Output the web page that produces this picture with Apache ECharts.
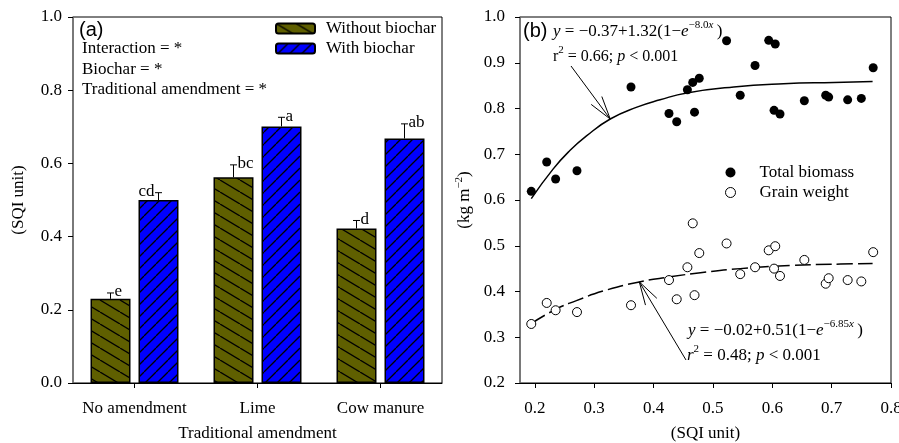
<!DOCTYPE html>
<html><head><meta charset="utf-8">
<script src="https://cdn.jsdelivr.net/npm/echarts@6/dist/echarts.min.js"></script>
<style>html,body{margin:0;padding:0;background:#fff}#c{width:899px;height:443px}</style>
</head><body><div id="c"></div>
<script>
// ---------- data ----------
const categories = ['No amendment', 'Lime', 'Cow manure'];
const withoutBiochar = [0.230, 0.562, 0.422];
const withBiochar = [0.500, 0.701, 0.668];
const errWithout = [0.016, 0.034, 0.022];
const errWith = [0.020, 0.025, 0.040];
const lettersWithout = ['e', 'bc', 'd'];
const lettersWith = ['cd', 'a', 'ab'];
const leftYTicks = [0, 0.2, 0.4, 0.6, 0.8, 1.0];

const sqi = [0.194, 0.220, 0.235, 0.271, 0.362, 0.426, 0.439, 0.457, 0.466, 0.469, 0.477, 0.523,
             0.546, 0.571, 0.594, 0.603, 0.605, 0.613, 0.654, 0.690, 0.695, 0.727, 0.750, 0.770];
const totalBiomass = [0.619, 0.683, 0.646, 0.664, 0.847, 0.789, 0.771, 0.841, 0.857, 0.792, 0.866, 0.948,
                      0.829, 0.894, 0.949, 0.796, 0.941, 0.788, 0.817, 0.829, 0.825, 0.819, 0.822, 0.889];
const grainWeight = [0.329, 0.375, 0.359, 0.355, 0.370, 0.425, 0.383, 0.453, 0.549, 0.392, 0.484, 0.505,
                     0.438, 0.453, 0.490, 0.450, 0.499, 0.434, 0.469, 0.417, 0.429, 0.425, 0.422, 0.486];
// fitted curves
const fitBiomassX = [0.194, 0.231, 0.259, 0.287, 0.327, 0.372, 0.411, 0.456, 0.535, 0.619, 0.704, 0.769];
const fitBiomassY = [0.603, 0.668, 0.708, 0.740, 0.777, 0.803, 0.819, 0.834, 0.847, 0.854, 0.857, 0.859];
const fitGrainX = [0.194, 0.235, 0.270, 0.315, 0.376, 0.428, 0.479, 0.546, 0.631, 0.715, 0.769];
const fitGrainY = [0.330, 0.361, 0.380, 0.401, 0.421, 0.432, 0.441, 0.450, 0.457, 0.460, 0.461];
const rightXTicks = [0.2, 0.3, 0.4, 0.5, 0.6, 0.7, 0.8];
const rightYTicks = [0.2, 0.3, 0.4, 0.5, 0.6, 0.7, 0.8, 0.9, 1.0];

// ---------- rendering ----------
const SERIF = 'Liberation Serif';
const FS = 17;
function hatch(bg, w, h, forward) {
  const c = document.createElement('canvas');
  c.width = w; c.height = h;
  const g = c.getContext('2d');
  g.fillStyle = bg; g.fillRect(0, 0, w, h);
  g.strokeStyle = '#000'; g.lineWidth = 1.3;
  for (const dx of [-w, 0, w]) {
    g.beginPath();
    if (forward) { g.moveTo(dx, h); g.lineTo(dx + w, 0); }
    else { g.moveTo(dx, 0); g.lineTo(dx + w, h); }
    g.stroke();
  }
  return c;
}
const olivePattern = { image: hatch('#5f5f00', 20, 12, false), repeat: 'repeat' };
const bluePattern = { image: hatch('#0000ff', 12, 12, true), repeat: 'repeat' };

const zip = (a, b) => a.map((v, i) => [v, b[i]]);
const txt = { fontFamily: SERIF, fontSize: FS, color: '#000' };

function errSeries(vals, errs, letters, offset, sides) {
  return {
    type: 'custom', xAxisIndex: 0, yAxisIndex: 0, z: 5, silent: true,
    data: vals.map((v, i) => [i, v]),
    renderItem: (params, api) => {
      const i = params.dataIndex;
      const base = api.coord([i, vals[i]]);
      const top = api.coord([i, vals[i] + errs[i]]);
      const x = base[0] + offset, cap = 3.5;
      const right = sides[i] > 0;
      return { type: 'group', children: [
        { type: 'line', shape: { x1: x, y1: base[1], x2: x, y2: top[1] }, style: { stroke: '#000', lineWidth: 1 } },
        { type: 'line', shape: { x1: x - cap, y1: top[1], x2: x + cap, y2: top[1] }, style: { stroke: '#000', lineWidth: 1 } },
        { type: 'text', x: right ? x + cap + 0.5 : x - cap - 0.5, y: top[1] - 1,
          style: { text: letters[i], fill: '#000', font: FS + 'px "' + SERIF + '"',
                   align: right ? 'left' : 'right', textAlign: right ? 'left' : 'right',
                   verticalAlign: 'middle', textVerticalAlign: 'middle' } }
      ]};
    }
  };
}

const chart = echarts.init(document.getElementById('c'), null, { renderer: 'canvas' });
const axisBase = {
  axisLine: { show: true, lineStyle: { color: '#000', width: 1 } },
  axisTick: { show: true, length: 5, inside: false, lineStyle: { color: '#000', width: 1 } },
  splitLine: { show: false },
  nameTextStyle: txt
};
chart.setOption({
  animation: false,
  backgroundColor: '#fff',
  grid: [
    { left: 73, top: 17, width: 369, height: 366, show: true, borderColor: '#000', borderWidth: 1,
      backgroundColor: 'transparent', containLabel: false, outerBoundsMode: 'none' },
    { left: 520, top: 17, width: 371, height: 366, show: true, borderColor: '#000', borderWidth: 1,
      backgroundColor: 'transparent', containLabel: false, outerBoundsMode: 'none' }
  ],
  legend: [
    { data: ['Without biochar', 'With biochar'], orient: 'vertical', left: 275, top: 20, padding: 0,
      itemWidth: 39, itemHeight: 10, itemGap: 3, selectedMode: false,
      textStyle: Object.assign({}, txt, { lineHeight: 17, padding: [0, 0, 0, 6] }) },
    { data: ['Total biomass', 'Grain weight'], orient: 'vertical', left: 725, top: 164, padding: 0,
      itemWidth: 10, itemHeight: 10, itemGap: 3, selectedMode: false,
      itemStyle: { borderWidth: 1 },
      textStyle: Object.assign({}, txt, { lineHeight: 17, padding: [0, 0, 0, 19] }) }
  ],
  xAxis: [
    Object.assign({}, axisBase, {
      type: 'category', gridIndex: 0, data: categories, boundaryGap: true,
      axisTick: Object.assign({}, axisBase.axisTick, { alignWithLabel: true }),
      axisLabel: Object.assign({}, txt, { margin: 17, interval: 0 }),
      name: 'Traditional amendment', nameLocation: 'middle', nameGap: 42
    }),
    Object.assign({}, axisBase, {
      type: 'value', gridIndex: 1, min: 0.175, max: 0.8,
      axisTick: Object.assign({}, axisBase.axisTick, { customValues: rightXTicks }),
      axisLabel: Object.assign({}, txt, { margin: 17, customValues: rightXTicks, formatter: v => v.toFixed(1),
        showMinLabel: true, showMaxLabel: true }),
      name: '(SQI unit)', nameLocation: 'middle', nameGap: 42
    })
  ],
  yAxis: [
    Object.assign({}, axisBase, {
      type: 'value', gridIndex: 0, min: leftYTicks[0], max: leftYTicks[leftYTicks.length - 1], interval: 0.2,
      axisLine: { show: true, lineStyle: { color: '#777', width: 1.5 } },
      axisLabel: Object.assign({}, txt, { margin: 11, formatter: v => v.toFixed(1) }),
      name: '(SQI unit)', nameLocation: 'middle', nameRotate: 90, nameGap: 46
    }),
    Object.assign({}, axisBase, {
      type: 'value', gridIndex: 1, min: rightYTicks[0], max: rightYTicks[rightYTicks.length - 1], interval: 0.1,
      axisLine: { show: true, lineStyle: { color: '#777', width: 1.5 } },
      axisLabel: Object.assign({}, txt, { margin: 15, formatter: v => v.toFixed(1) }),
      name: '(kg m{s|−2})', nameLocation: 'middle', nameRotate: 90, nameGap: 44,
      nameTextStyle: Object.assign({}, txt, { lineHeight: 22,
        rich: { s: { fontFamily: SERIF, fontSize: 11, verticalAlign: 'top', lineHeight: 11 } } })
    })
  ],
  series: [
    { name: 'Without biochar', type: 'bar', xAxisIndex: 0, yAxisIndex: 0, data: withoutBiochar,
      barWidth: 40, barGap: '20%', itemStyle: { color: olivePattern, borderColor: '#000', borderWidth: 1.5 } },
    { name: 'With biochar', type: 'bar', xAxisIndex: 0, yAxisIndex: 0, data: withBiochar,
      barWidth: 40, barGap: '20%', itemStyle: { color: bluePattern, borderColor: '#000', borderWidth: 1.5 } },
    errSeries(withoutBiochar, errWithout, lettersWithout, -24, [1, 1, 1]),
    errSeries(withBiochar, errWith, lettersWith, 24, [-1, 1, 1]),
    { name: 'fitBiomass', type: 'line', xAxisIndex: 1, yAxisIndex: 1, data: zip(fitBiomassX, fitBiomassY),
      smooth: true, symbol: 'none', silent: true, z: 2, lineStyle: { color: '#000', width: 1.5 } },
    { name: 'fitGrain', type: 'line', xAxisIndex: 1, yAxisIndex: 1, data: zip(fitGrainX, fitGrainY),
      smooth: true, symbol: 'none', silent: true, z: 2, lineStyle: { color: '#000', width: 1.5, type: [16, 5] } },
    { name: 'Total biomass', type: 'scatter', xAxisIndex: 1, yAxisIndex: 1, data: zip(sqi, totalBiomass),
      symbol: 'circle', symbolSize: 9, z: 4, itemStyle: { color: '#000', opacity: 1 } },
    { name: 'Grain weight', type: 'scatter', xAxisIndex: 1, yAxisIndex: 1, data: zip(sqi, grainWeight),
      symbol: 'circle', symbolSize: 9, z: 4, itemStyle: { color: '#fff', borderColor: '#000', borderWidth: 1, opacity: 1 } }
  ]
});

// ---------- annotations ----------
function label(x, y, text, extra) {
  return { type: 'text', x: x, y: y, z: 20, silent: true,
    style: Object.assign({ text: text, fill: '#000', font: FS + 'px "' + SERIF + '"',
      align: 'left', verticalAlign: 'middle' }, extra || {}) };
}
function eqRich(fs) {
  return {
    i: { fontFamily: SERIF, fontSize: fs, fontStyle: 'italic' },
    s: { fontFamily: SERIF, fontSize: 11, verticalAlign: 'top', lineHeight: 11 },
    si: { fontFamily: SERIF, fontSize: 11, fontStyle: 'italic', verticalAlign: 'top', lineHeight: 11 }
  };
}
function arrow(p0, p1) {
  const ang = Math.atan2(p0[1] - p1[1], p0[0] - p1[0]);
  const L = 24, a = 16 * Math.PI / 180;
  const h1 = [p1[0] + L * Math.cos(ang + a), p1[1] + L * Math.sin(ang + a)];
  const h2 = [p1[0] + L * Math.cos(ang - a), p1[1] + L * Math.sin(ang - a)];
  const st = { stroke: '#000', lineWidth: 1 };
  return [
    { type: 'line', z: 20, silent: true, shape: { x1: p0[0], y1: p0[1], x2: p1[0], y2: p1[1] }, style: st },
    { type: 'line', z: 20, silent: true, shape: { x1: p1[0], y1: p1[1], x2: h1[0], y2: h1[1] }, style: st },
    { type: 'line', z: 20, silent: true, shape: { x1: p1[0], y1: p1[1], x2: h2[0], y2: h2[1] }, style: st }
  ];
}
const tip1 = chart.convertToPixel({ gridIndex: 1 }, [0.327, 0.777]);
const tip2 = chart.convertToPixel({ gridIndex: 1 }, [0.376, 0.421]);
chart.setOption({
  graphic: [
    label(79, 30, '(a)', { font: '20px "Liberation Sans"' }),
    label(82, 49, 'Interaction = *'),
    label(82, 70, 'Biochar = *'),
    label(82, 90, 'Traditional amendment = *'),
    label(523, 31, '(b)', { font: '20px "Liberation Sans"' }),
    label(553, 32, '{i|y} = −0.37+1.32(1−{i|e}{s|−8.0}{si|x}\u2009)', { lineHeight: 24, rich: eqRich(17) }),
    label(553, 57, 'r{s|2} = 0.66; {i|p} < 0.001', { lineHeight: 24, font: '16px "' + SERIF + '"', rich: eqRich(16) }),
    label(688, 331, '{i|y} = −0.02+0.51(1−{i|e}{s|−6.85}{si|x}\u2009)', { lineHeight: 24, rich: eqRich(17) }),
    label(687, 356, '{i|r}{s|2} = 0.48; {i|p} < 0.001', { lineHeight: 24, rich: eqRich(17) })
  ].concat(arrow([571, 66], tip1), arrow([686, 360], tip2))
});
</script></body></html>
